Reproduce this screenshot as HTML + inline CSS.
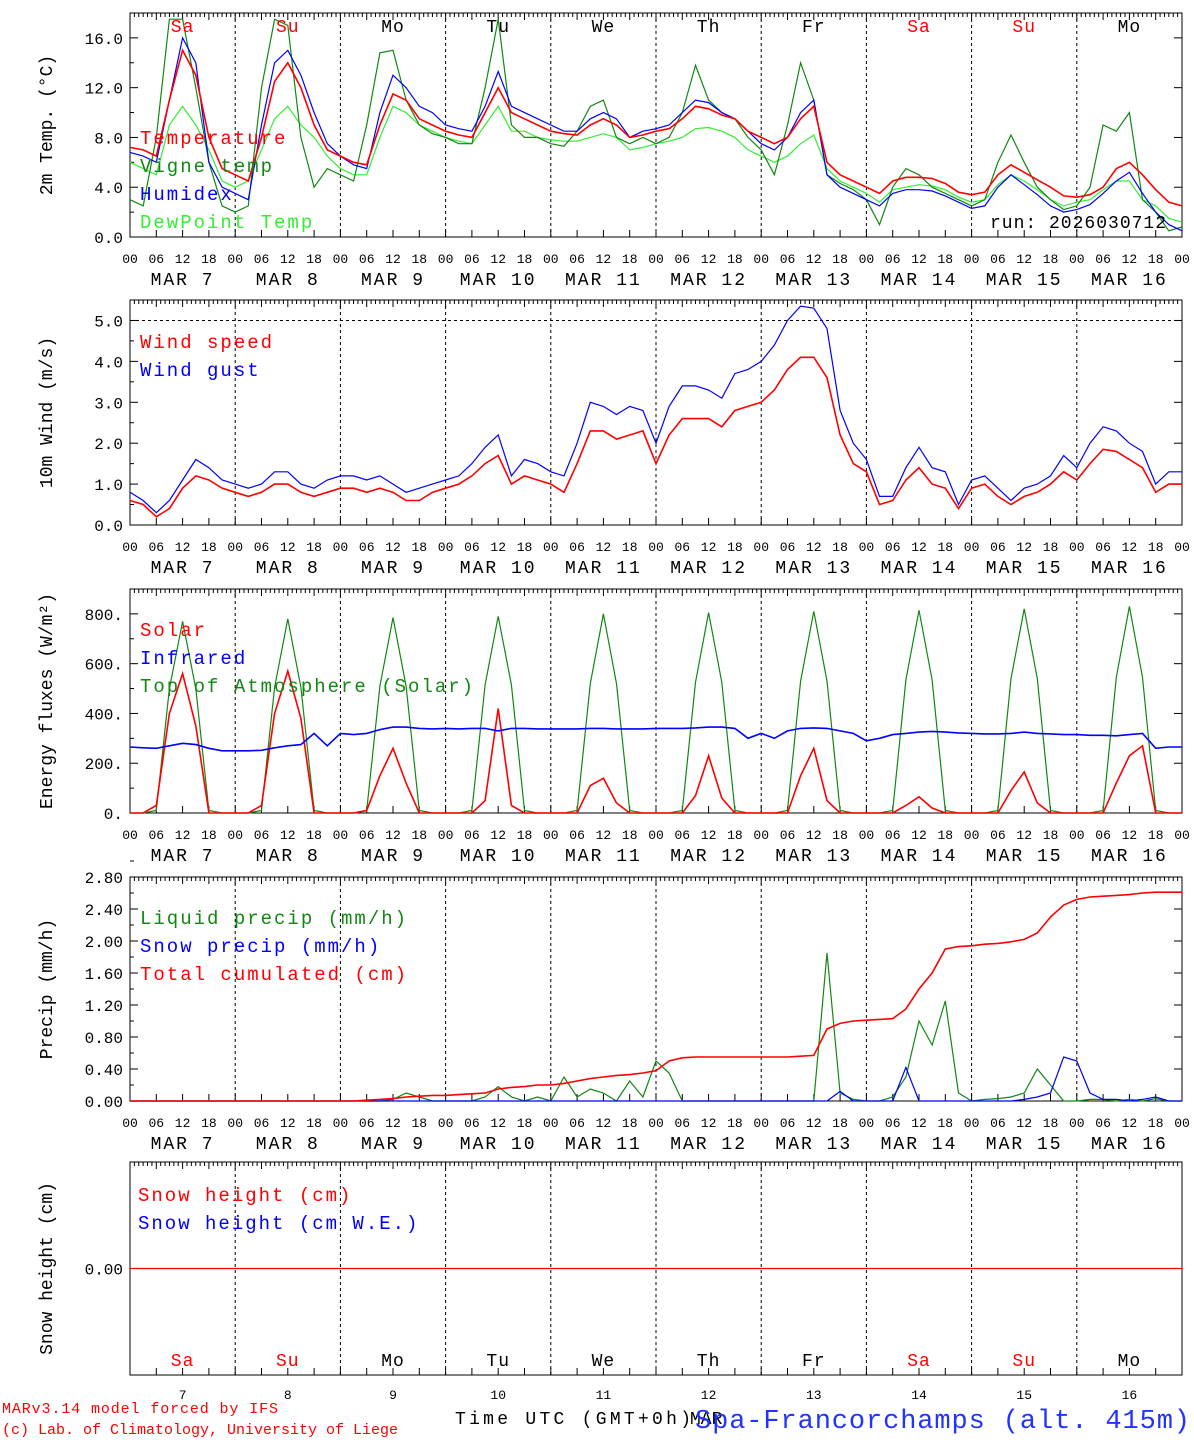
<!DOCTYPE html>
<html><head><meta charset="utf-8"><style>
html,body{margin:0;padding:0;background:#fff;}
svg text{font-family:"Liberation Mono",monospace;}
</style></head><body>
<svg id="chart" width="1194" height="1440" viewBox="0 0 1194 1440" xmlns="http://www.w3.org/2000/svg"></svg>
<script>
// ---- data (3-hourly, 81 points from Mar 7 00UTC to Mar 17 00UTC) ----
const days=["Sa","Su","Mo","Tu","We","Th","Fr","Sa","Su","Mo"];
const dayNums=["7","8","9","10","11","12","13","14","15","16"];
const hourLabels=["00","06","12","18"];
const temperature=[7.2,7,6.5,11,15,13,8,5.5, 5,4.5,8,12.5,14,12,9,7, 6.5,6,5.8,9,11.5,11,9.5,9, 8.5,8.2,8,10,12,10,9.5,9, 8.5,8.3,8.2,9,9.5,9,8,8.2, 8.5,8.7,9.5,10.5,10.3,9.8,9.5,8.5, 8,7.5,8,9.5,10.5,6,5,4.5, 4,3.5,4.5,4.8,4.8,4.7,4.3,3.6, 3.4,3.6,5,5.8,5.2,4.6,4,3.3, 3.2,3.4,4,5.5,6,5,3.8,2.8,2.5];
const vigneTemp=[3,2.5,8,17.5,17.5,12,6,2.5, 2,2.5,12,17.5,17,8,4,5.5, 5,4.5,9,14.8,15,11,9,8.3, 8,7.5,7.5,12,17.5,9,8,8, 7.5,7.3,8.5,10.5,11,8,7.5,8, 7.5,8,10,13.8,11,10,9.5,8, 7,5,9,14,11,5,4.3,3.8, 3,1,4,5.5,5,4,3.5,3, 2.5,3,6,8.2,6,4,3,2.2, 2.5,4,9,8.5,10,3,2,0.5,0.8];
const humidex=[6.8,6.5,6,11,16,14,6,4, 3.5,3,9,14,15,13,10,7.5, 6.5,5.8,5.5,10,13,12,10.5,10, 9,8.7,8.5,10.5,13.3,10.5,10,9.5, 9,8.5,8.5,9.5,10,9.5,8,8.5, 8.7,9,10,11,10.8,10,9.5,8.5, 7.5,7,8,10,11,5,4,3.5, 3,2.5,3.5,3.8,3.8,3.7,3.3,2.8, 2.3,2.5,4,5,4.2,3.4,2.5,2, 2.2,2.6,3.5,4.5,5.2,3.5,2,1,0.5];
const dewPoint=[6,5.5,5,9,10.5,9,7,4.5, 4,4.5,7,9.5,10.5,9,8,6.5, 5.5,5,5,8,10.5,10,9,8.5, 8,7.7,7.5,9,10.5,8.5,8.5,8, 7.8,7.7,7.7,8,8.3,8,7,7.2, 7.5,7.7,8,8.7,8.8,8.5,8,7, 6.5,6,6.5,7.5,8.2,5.5,4.5,4, 3.5,2.8,3.8,4,4.2,4.1,3.8,3.2, 2.8,3,4.2,5,4.5,3.8,3,2.5, 2.8,3,3.8,4.5,4.5,3,2.5,1.5,1.2];
const windSpeed=[0.6,0.5,0.2,0.4,0.9,1.2,1.1,0.9, 0.8,0.7,0.8,1.0,1.0,0.8,0.7,0.8, 0.9,0.9,0.8,0.9,0.8,0.6,0.6,0.8, 0.9,1.0,1.2,1.5,1.7,1.0,1.2,1.1, 1.0,0.8,1.5,2.3,2.3,2.1,2.2,2.3, 1.5,2.2,2.6,2.6,2.6,2.4,2.8,2.9, 3.0,3.3,3.8,4.1,4.1,3.6,2.2,1.5, 1.3,0.5,0.6,1.1,1.4,1.0,0.9,0.4, 0.9,1.0,0.7,0.5,0.7,0.8,1.0,1.3, 1.1,1.5,1.85,1.8,1.6,1.4,0.8,1.0,1.0];
const windGust=[0.8,0.6,0.3,0.6,1.1,1.6,1.4,1.1, 1.0,0.9,1.0,1.3,1.3,1.0,0.9,1.1, 1.2,1.2,1.1,1.2,1.0,0.8,0.9,1.0, 1.1,1.2,1.5,1.9,2.2,1.2,1.6,1.5, 1.3,1.2,2.0,3.0,2.9,2.7,2.9,2.8, 2.0,2.9,3.4,3.4,3.3,3.1,3.7,3.8, 4.0,4.4,5.0,5.35,5.3,4.8,2.8,2.0, 1.6,0.7,0.7,1.4,1.9,1.4,1.3,0.5, 1.1,1.2,0.9,0.6,0.9,1.0,1.2,1.7, 1.4,2.0,2.4,2.3,2.0,1.8,1.0,1.3,1.3];
const solar=[0,0,30,400,560,350,0,0, 0,0,30,400,570,380,0,0, 0,0,10,150,260,120,0,0, 0,0,0,50,420,30,0,0, 0,0,0,110,140,40,0,0, 0,0,0,70,230,60,0,0, 0,0,0,150,260,50,0,0, 0,0,0,30,65,20,0,0, 0,0,0,90,165,40,0,0, 0,0,0,120,230,270,0,0,0];
const infrared=[265,262,260,270,280,275,260,250, 250,250,252,262,270,275,320,270, 320,315,320,335,345,345,340,338, 340,338,340,340,330,340,340,338, 338,338,338,340,340,338,338,338, 340,340,340,342,345,345,340,300, 320,300,330,340,342,340,330,320, 290,300,315,320,325,328,325,322, 320,318,318,320,325,320,318,315, 315,312,312,310,315,320,260,265,265];
const toaSolar=[0,0,10,500,770,500,10,0, 0,0,10,505,780,505,10,0, 0,0,10,510,785,510,10,0, 0,0,10,515,790,515,10,0, 0,0,10,520,800,520,10,0, 0,0,10,525,805,525,10,0, 0,0,10,530,810,530,10,0, 0,0,10,535,815,535,10,0, 0,0,10,540,820,540,10,0, 0,0,10,545,830,545,10,0,0];
const liquidPrecip=[0,0,0,0,0,0,0,0, 0,0,0,0,0,0,0,0, 0,0,0,0,0.02,0.1,0.05,0, 0,0,0,0.05,0.18,0.05,0,0.05, 0,0.3,0.05,0.15,0.1,0,0.25,0.05, 0.5,0.35,0,0,0,0,0,0, 0,0,0,0,0,1.85,0.1,0.02, 0,0,0.05,0.3,1.0,0.7,1.25,0.1, 0,0.02,0.03,0.05,0.1,0.4,0.2,0, 0,0.02,0.02,0,0.02,0,0.03,0,0];
const snowPrecip=[0,0,0,0,0,0,0,0, 0,0,0,0,0,0,0,0, 0,0,0,0,0,0,0,0, 0,0,0,0,0,0,0,0, 0,0,0,0,0,0,0,0, 0,0,0,0,0,0,0,0, 0,0,0,0,0,0,0.12,0, 0,0,0,0.42,0,0,0,0, 0,0,0,0,0.02,0.05,0.1,0.55, 0.5,0.1,0.02,0.02,0,0.02,0.05,0,0];
const totalCum=[0,0,0,0,0,0,0,0, 0,0,0,0,0,0,0,0, 0,0,0.01,0.02,0.03,0.05,0.06,0.07, 0.07,0.08,0.09,0.1,0.15,0.17,0.18,0.2, 0.2,0.22,0.25,0.28,0.3,0.32,0.33,0.35, 0.38,0.5,0.54,0.55,0.55,0.55,0.55,0.55, 0.55,0.55,0.55,0.56,0.57,0.9,0.97,1.0, 1.01,1.02,1.03,1.15,1.4,1.6,1.9,1.93, 1.94,1.96,1.97,1.99,2.02,2.1,2.3,2.45, 2.52,2.55,2.56,2.57,2.58,2.6,2.61,2.61,2.61];
const snowHeight=new Array(81).fill(0);
const tempTicks=["0.0","4.0","8.0","12.0","16.0"];
const windTicks=["0.0","1.0","2.0","3.0","4.0","5.0"];
const energyTicks=["0.","200.","400.","600.","800."];
const precipTicks=["0.00","0.40","0.80","1.20","1.60","2.00","2.40","2.80"];

const NS="http://www.w3.org/2000/svg";
const svg=document.getElementById('chart');
const X0=130,X1=1182;
function xs(h){return X0+h*(X1-X0)/240;}
function el(tag,attrs,parent){const e=document.createElementNS(NS,tag);for(const k in attrs)e.setAttribute(k,attrs[k]);(parent||svg).appendChild(e);return e;}
function txt(s,x,y,size,fill,anchor,parent,ls){const t=el('text',{x:x,y:y,'font-size':size,fill:fill||'#000','text-anchor':anchor||'start'},parent);if(ls)t.setAttribute('letter-spacing',ls);t.textContent=s;return t;}

function panel(name,top,bot,ymin,ymax,title,showHours){
  const g=el('g',{});
  
  
  const ys=v=>bot-(v-ymin)*(bot-top)/(ymax-ymin);
  el('rect',{x:X0,y:top,width:X1-X0,height:bot-top,fill:'none',stroke:'#000','stroke-width':1},g);
  for(let d=1;d<10;d++){const x=xs(d*24);el('line',{x1:x,y1:top,x2:x,y2:bot,stroke:'#000','stroke-dasharray':'3,3','stroke-width':1},g);}
  for(let h=0;h<=240;h++){const x=xs(h);el('line',{x1:x,y1:top,x2:x,y2:top+(h%6==0?7:4),stroke:'#000'},g);if(h%6==0)el('line',{x1:x,y1:bot,x2:x,y2:bot-7,stroke:'#000'},g);}
  const tt=txt(title,0,0,18,'#000','middle',g);tt.setAttribute('transform',`translate(52,${(top+bot)/2}) rotate(-90)`);
  if(showHours){for(let d=0;d<10;d++){hourLabels.forEach((l,i)=>txt(l,xs(d*24+i*6),bot+26,13,'#000','middle',g));
    txt('MAR '+(dayNums[d].length<2?' ':'')+dayNums[d],xs(d*24+12),bot+48,18,'#000','middle',g,'2');}
   txt('00',X1,bot+26,13,'#000','middle',g);}
  return {g,ys};
}
function yticks(p,labels,step){labels.forEach((t,i)=>{const v=i*step;const y=p.ys(v);el('line',{x1:X0,y1:y,x2:X0+8,y2:y,stroke:'#000'},p.g);el('line',{x1:X1,y1:y,x2:X1-8,y2:y,stroke:'#000'},p.g);txt(t,123,y+6,16,'#000','end',p.g);
  const y2=p.ys(v+step/2);el('line',{x1:X0,y1:y2,x2:X0+4,y2:y2,stroke:'#000'},p.g);});}
function line(p,data,color,name,w){
  let d='';data.forEach((v,i)=>{d+=(i?'L':'M')+xs(i*3).toFixed(1)+','+p.ys(v).toFixed(1);});
  const path=el('path',{d:d,fill:'none',stroke:color,'stroke-width':w||1.2},p.g);
  
  
}
function legend(p,items,x,y){items.forEach((it,i)=>{const t=txt(it[0],x,y+i*28,19,it[1],'start',p.g,'2');});}

// Panel 1
const p1=panel('temperature-panel',13,237,0,18,'2m Temp. (°C)',true);
yticks(p1,tempTicks,4);
line(p1,dewPoint,'#33ee33','dewpoint-line');
line(p1,vigneTemp,'#118811','vigne-temp-line');
line(p1,humidex,'#0000ff','humidex-line');
line(p1,temperature,'#ff0000','temperature-line',1.6);
legend(p1,[['Temperature','#ff0000'],['Vigne temp','#118811'],['Humidex','#0000ff'],['DewPoint Temp','#33ee33']],140,144);
txt('run: 2026030712',990,228,18,'#000','start',p1.g,'1');
days.forEach((d,i)=>txt(d,xs(i*24+12),32,18,(d=='Sa'||d=='Su')?'#ff0000':'#000','middle',p1.g,'1'));

// Panel 2
const p2=panel('wind-panel',300,525,0,5.5,'10m Wind (m/s)',true);
yticks(p2,windTicks,1);
el('line',{x1:X0,y1:p2.ys(5),x2:X1,y2:p2.ys(5),stroke:'#000','stroke-dasharray':'3,3'},p2.g);
line(p2,windGust,'#0000ff','wind-gust-line');
line(p2,windSpeed,'#ff0000','wind-speed-line',1.6);
legend(p2,[['Wind speed','#ff0000'],['Wind gust','#0000ff']],140,348);

// Panel 3
const p3=panel('energy-panel',589,813,0,900,'Energy fluxes (W/m²)',true);
yticks(p3,energyTicks,200);
line(p3,toaSolar,'#118811','toa-solar-line');
line(p3,solar,'#ff0000','solar-line',1.6);
line(p3,infrared,'#0000ff','infrared-line',1.6);
legend(p3,[['Solar','#ff0000'],['Infrared','#0000ff'],['Top of Atmosphere (Solar)','#118811']],140,636);

// Panel 4
const p4=panel('precip-panel',877,1101,0,2.8,'Precip (mm/h)',true);
yticks(p4,precipTicks,0.4);
line(p4,liquidPrecip,'#118811','liquid-precip-line');
line(p4,snowPrecip,'#0000ff','snow-precip-line');
line(p4,totalCum,'#ff0000','total-cumulated-line',1.6);
legend(p4,[['Liquid precip (mm/h)','#118811'],['Snow precip (mm/h)','#0000ff'],['Total cumulated (cm)','#ff0000']],140,924);

// Panel 5
const p5=panel('snow-panel',1162,1375,-1,1,'Snow height (cm)',false);
{const y=p5.ys(0);el('line',{x1:X0,y1:y,x2:X0+8,y2:y,stroke:'#000'},p5.g);txt('0.00',123,y+6,16,'#000','end',p5.g);}
line(p5,snowHeight,'#ff0000','snow-height-line');
legend(p5,[['Snow height (cm)','#ff0000'],['Snow height (cm W.E.)','#0000ff']],138,1201);
days.forEach((d,i)=>txt(d,xs(i*24+12),1366,18,(d=='Sa'||d=='Su')?'#ff0000':'#000','middle',p5.g,'1'));
dayNums.forEach((d,i)=>txt(d,xs(i*24+12),1399,13,'#000','middle',p5.g));

// Footer
const f1=txt('MARv3.14 model forced by IFS',2,1413,15,'#ff0000');f1.setAttribute('textLength','276');
const f2=txt('(c) Lab. of Climatology, University of Liege',2,1434,15,'#ff0000');f2.setAttribute('textLength','396');
const f3=txt('Time UTC (GMT+0h)',455,1424,18,'#000');f3.setAttribute('textLength','236');
txt('MAR',690,1424,18,'#000');
const ft=txt('Spa-Francorchamps (alt. 415m)',695,1428,27,'#2233ff','start');
ft.setAttribute('textLength','495');


</script>
</body></html>
